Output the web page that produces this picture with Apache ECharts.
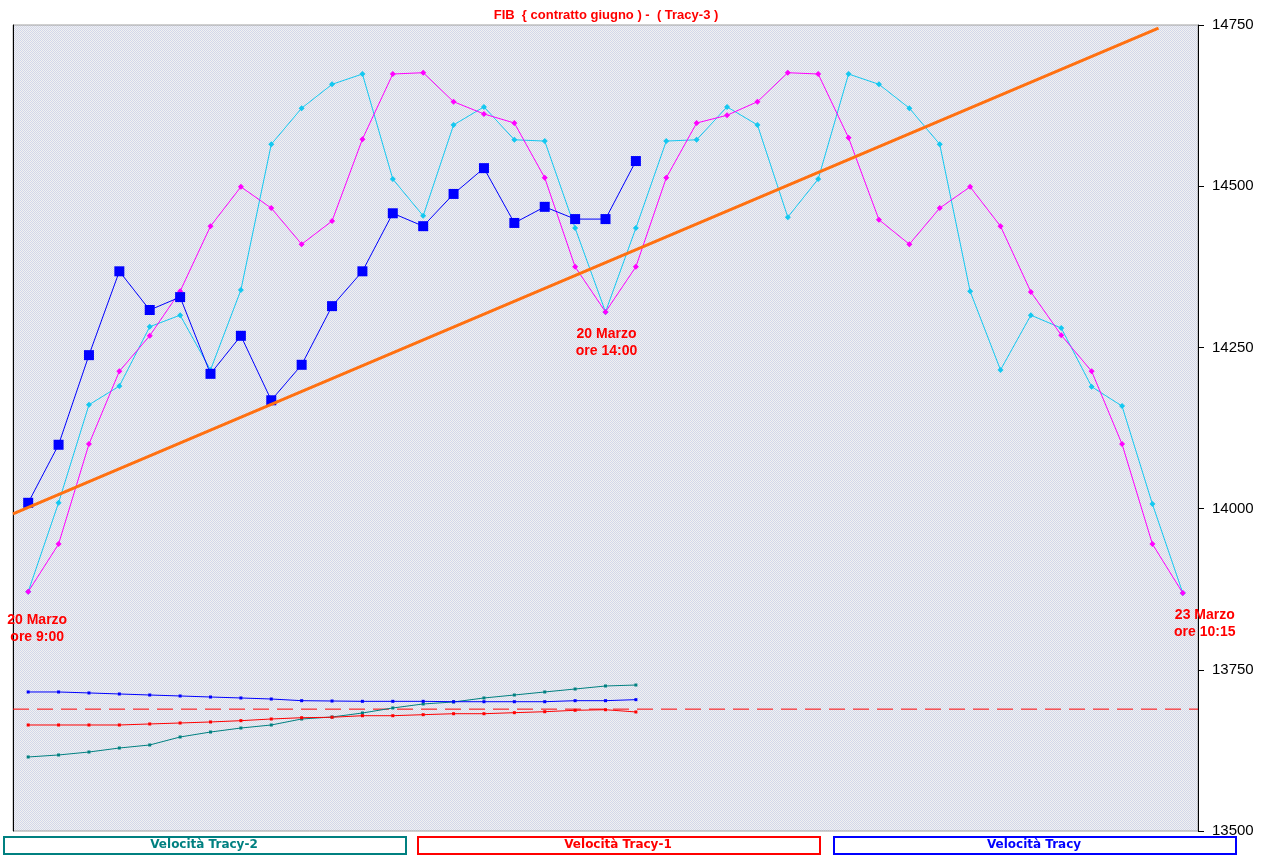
<!DOCTYPE html>
<html>
<head>
<meta charset="utf-8">
<script src="https://cdn.jsdelivr.net/npm/echarts@6/dist/echarts.min.js"></script>
<style>html,body{margin:0;padding:0;background:#fff}#chart{width:1265px;height:858px}</style>
</head>
<body>
<div id="chart"></div>
<script>
// ---- data ----
const categories = ["1","2","3","4","5","6","7","8","9","10","11","12","13","14","15","16","17","18","19","20",
  "21","22","23","24","25","26","27","28","29","30","31","32","33","34","35","36","37","38","39"];
const yTicks = [13500, 13750, 14000, 14250, 14500, 14750];
const fibCyan = [13871, 14009, 14161, 14190, 14282, 14300, 14215, 14339, 14565, 14621,
  14658, 14674, 14511, 14454, 14595, 14623, 14572, 14570, 14435, 14305,
  14435, 14570, 14572, 14623, 14595, 14452, 14511, 14674, 14658, 14621,
  14565, 14337, 14215, 14300, 14280, 14189, 14159, 14007, 13869];
const tracyMagenta = [13871, 13945, 14100, 14213, 14268, 14337, 14438, 14499, 14466, 14410,
  14446, 14573, 14674, 14676, 14631, 14612, 14598, 14513, 14375, 14305,
  14375, 14513, 14598, 14610, 14631, 14676, 14674, 14575, 14448, 14410,
  14466, 14499, 14438, 14336, 14269, 14213, 14100, 13945, 13869];
const tracyBlue = [14009, 14099, 14238, 14368, 14308, 14328, 14209, 14268, 14168, 14223,
  14314, 14368, 14458, 14438, 14488, 14528, 14443, 14468, 14449, 14449, 14539];
const trendPoints = [[-0.5, 13992], [37.2, 14745]];
const velTracy2 = [13614.8, 13617.9, 13622.5, 13628.7, 13633.4, 13645.8, 13653.5, 13659.7, 13664.4, 13673.7,
  13676.8, 13683.0, 13690.8, 13697.0, 13700.1, 13706.3, 13710.9, 13715.6, 13720.2, 13724.9, 13726.4];
const velTracy1 = [13664.4, 13664.4, 13664.4, 13664.4, 13666.0, 13667.5, 13669.1, 13671.1, 13673.7, 13675.7,
  13676.4, 13678.8, 13678.8, 13680.4, 13681.9, 13681.9, 13683.5, 13685.0, 13687.2, 13688.1, 13684.6];
const velTracy = [13715.6, 13715.6, 13714.1, 13712.5, 13710.9, 13709.4, 13707.8, 13706.3, 13704.7, 13702.1,
  13701.6, 13701.1, 13701.1, 13701.1, 13700.5, 13700.5, 13700.5, 13700.5, 13702.1, 13702.1, 13703.7];
const zeroLevel = 13689;
const zeroSpan = [-0.5, 38.5];
const legendNames = ["Velocità Tracy-2", "Velocità Tracy-1", "Velocità Tracy"];
const annotations = [
  {cat: "1", value: 13871, text: "20 Marzo\nore 9:00"},
  {cat: "20", value: 14305, text: "20 Marzo\nore 14:00"},
  {cat: "39", value: 13869, text: "23 Marzo\nore 10:15"}
];
const titleText = "FIB  { contratto giugno ) -  ( Tracy-3 )";

// ---- texture ----
const tex = document.createElement('canvas');
tex.width = 4; tex.height = 4;
const tctx = tex.getContext('2d');
for (let y = 0; y < 4; y++) for (let x = 0; x < 4; x++) {
  tctx.fillStyle = ((x + y) % 2 === 0) ? '#d2d7ea' : '#f1f1f1';
  tctx.fillRect(x, y, 1, 1);
}

const annOffsets = [[9, 37], [1, 31], [22, 31]];

const chart = echarts.init(document.getElementById('chart'), null, {renderer: 'canvas'});
const legendColors = ['#008080', '#ff0000', '#0000ff'];
const legendBoxes = [3, 417, 833];

const graphics = [];
legendNames.forEach((n, i) => {
  graphics.push({type: 'rect', left: legendBoxes[i], top: 836,
    shape: {width: 402, height: 17},
    style: {fill: '#fff', stroke: legendColors[i], lineWidth: 2}});
  graphics.push({type: 'text', x: legendBoxes[i] + 201, y: 845,
    style: {text: n, fill: legendColors[i], font: 'bold 12px "DejaVu Sans"', textAlign: 'center', textVerticalAlign: 'middle'}});
});

chart.setOption({
  animation: false,
  backgroundColor: '#ffffff',
  title: {text: titleText, left: 601, top: 4, textAlign: 'center',
    textStyle: {color: '#ff0000', fontSize: 13, fontWeight: 'bold', fontFamily: 'Liberation Sans'}},
  grid: {left: 13, right: 67, top: 25, bottom: 27, show: true,
    backgroundColor: {image: tex, repeat: 'repeat'}, borderColor: '#a0a0a0', borderWidth: 1},
  xAxis: [
    {type: 'category', data: categories, boundaryGap: true,
      axisLine: {show: false}, axisTick: {show: false}, axisLabel: {show: false}, splitLine: {show: false}},
    {type: 'value', min: -0.5, max: 38.5, show: false}
  ],
  yAxis: [
    {type: 'value', position: 'right', min: 13500, max: 14750, interval: 250,
      axisLine: {show: true, onZero: false, lineStyle: {color: '#000', width: 1}},
      axisTick: {show: true, length: 6, lineStyle: {color: '#000'}},
      axisLabel: {show: true, margin: 14, color: '#000', fontSize: 15, fontFamily: 'Liberation Sans',
        formatter: v => yTicks.includes(v) ? String(v) : ''},
      splitLine: {show: false}},
    {type: 'value', position: 'left', min: 13500, max: 14750, interval: 250,
      axisLine: {show: true, onZero: false, lineStyle: {color: '#000', width: 1}},
      axisTick: {show: false}, axisLabel: {show: false}, splitLine: {show: false}}
  ],
  legend: {show: false, data: legendNames},
  graphic: graphics,
  series: [
    {name: 'Zero', type: 'line', xAxisIndex: 1, data: zeroSpan.map(x => [x, zeroLevel]), symbol: 'none',
      lineStyle: {color: '#ff0000', width: 1, type: [16, 8]}, z: 1},
    {name: 'FIB', type: 'line', data: fibCyan, symbol: 'diamond', symbolSize: 6,
      lineStyle: {color: '#14c8f0', width: 1}, itemStyle: {color: '#14c8f0'},
      markPoint: {symbol: 'circle', symbolSize: 0, silent: true,
        label: {show: true, color: '#ff0000', fontSize: 14, fontWeight: 'bold', fontFamily: 'Liberation Sans',
          lineHeight: 17, align: 'center', verticalAlign: 'middle', position: 'inside'},
        data: annotations.map((a, i) => ({coord: [a.cat, a.value], value: a.text,
          label: {formatter: a.text, offset: annOffsets[i]}}))}},
    {name: 'Tracy-3', type: 'line', data: tracyMagenta, symbol: 'diamond', symbolSize: 6,
      lineStyle: {color: '#ff00ff', width: 1}, itemStyle: {color: '#ff00ff'}},
    {name: 'Tracy', type: 'line', data: tracyBlue, symbol: 'rect', symbolSize: 10,
      lineStyle: {color: '#0000ff', width: 1}, itemStyle: {color: '#0000ff'}},
    {name: legendNames[0], type: 'line', data: velTracy2, symbol: 'rect', symbolSize: 3,
      lineStyle: {color: '#008080', width: 1}, itemStyle: {color: '#008080'}},
    {name: legendNames[1], type: 'line', data: velTracy1, symbol: 'rect', symbolSize: 3,
      lineStyle: {color: '#ff0000', width: 1}, itemStyle: {color: '#ff0000'}},
    {name: legendNames[2], type: 'line', data: velTracy, symbol: 'rect', symbolSize: 3,
      lineStyle: {color: '#0000ff', width: 1}, itemStyle: {color: '#0000ff'}},
    {name: 'Trend', type: 'line', xAxisIndex: 1, data: trendPoints, symbol: 'none',
      lineStyle: {color: '#ff7010', width: 3}, z: 5}
  ]
});
</script>
</body>
</html>
